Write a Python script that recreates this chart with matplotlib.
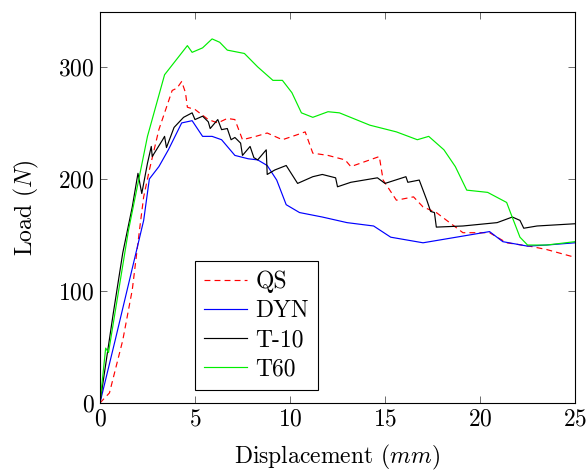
import matplotlib
matplotlib.use("Agg")
import matplotlib.pyplot as plt

plt.rcParams['font.family'] = 'serif'
plt.rcParams['font.serif'] = ['cmr10', 'DejaVu Serif']
plt.rcParams['mathtext.fontset'] = 'cm'
plt.rcParams['axes.formatter.use_mathtext'] = True

qs_x = [0, 0.5, 1.2, 1.7, 2.1, 2.3, 2.6, 3.1, 3.8, 4.05, 4.3, 4.5, 4.6, 5.0, 5.7, 6.2, 6.7, 7.1, 7.5,
        8.2, 8.8, 9.6, 10.3, 10.8, 11.2, 12.0, 12.9, 13.2, 14.7, 14.9, 15.6, 16.5, 17.0, 17.7, 18.4,
        19.1, 20.5, 21.4, 22.6, 23.5, 25.0]
qs_y = [0, 9, 56, 101, 157, 184, 208, 244, 279, 281, 287, 277, 264, 262, 253, 250, 254, 253, 235,
        238, 241, 235, 239, 242, 223, 221, 217, 211, 220, 199, 181, 184, 175, 170, 161,
        152, 152, 143, 140, 137, 130]

dyn_x = [0, 0.8, 1.6, 2.3, 2.6, 3.1, 3.6, 4.3, 4.85, 5.4, 5.9, 6.4, 7.1, 7.8, 8.3, 8.8, 9.3, 9.8,
         10.5, 11.7, 13.0, 14.4, 15.3, 17.0, 20.5, 21.2, 22.5, 23.5, 25.0]
dyn_y = [0, 56, 113, 163, 200, 211, 226, 250, 252, 238, 238, 235, 221, 218, 217, 212, 199, 177,
         170, 166, 161, 158, 148, 143, 153, 144, 140, 141, 143]

t10_x = [0, 0.7, 1.2, 1.7, 2.0, 2.2, 2.5, 2.7, 2.75, 3.3, 3.4, 3.5, 3.9, 4.4, 4.85, 5.0, 5.4, 5.7,
         5.8, 6.2, 6.4, 6.7, 6.9, 7.1, 7.4, 7.5, 7.9, 8.1, 8.3, 8.75, 8.8, 9.2, 9.8, 10.4, 11.2,
         11.7, 12.4, 12.5, 13.2, 14.6, 15.0, 16.1, 16.2, 16.8, 17.2, 17.4, 17.6, 17.7, 19.1, 20.9,
         21.7, 22.1, 22.3, 23.0, 25.0]
t10_y = [0, 80, 134, 175, 205, 187, 214, 229, 220, 235, 238, 228, 246, 255, 259, 253, 256, 251,
         245, 253, 244, 245, 235, 237, 232, 221, 229, 219, 217, 226, 204, 208, 212, 196, 202,
         204, 201, 193, 197, 201, 196, 202, 197, 199, 181, 171, 170, 157, 158, 161,
         166, 163, 156, 158, 160]

t60_x = [0, 0.3, 0.45, 1.5, 2.5, 3.4, 4.6, 4.85, 5.4, 5.9, 6.3, 6.7, 7.6, 8.3, 9.1, 9.6, 10.1, 10.6,
         11.2, 12.0, 12.6, 14.2, 15.6, 16.7, 17.3, 18.1, 18.7, 19.3, 20.4, 21.4, 21.6, 22.1, 22.5,
         23.5, 25.0]
t60_y = [0, 49, 45, 154, 238, 293, 319, 313, 317, 325, 322, 315, 312, 300, 288, 288, 277, 259,
         255, 260, 259, 248, 242, 235, 238, 226, 211, 190, 188, 179, 170, 148, 141,
         141, 144]

fig = plt.figure(figsize=(5.88, 4.75), dpi=100)
ax = fig.add_axes([0.170, 0.1516, 0.808, 0.8231])

lw = 0.85
ax.plot(qs_x, qs_y, color='red', lw=lw, dashes=(5, 3.5), label='QS')
ax.plot(dyn_x, dyn_y, color='blue', lw=lw, label='DYN')
ax.plot(t10_x, t10_y, color='black', lw=lw, label='T-10')
ax.plot(t60_x, t60_y, color='#00ee00', lw=lw, label='T60')

ax.set_xlim(0, 25)
ax.set_ylim(0, 349)
ax.set_xticks([0, 5, 10, 15, 20, 25])
ax.set_yticks([0, 100, 200, 300])
ax.tick_params(direction='in', top=True, right=True, length=5, width=0.6,
               colors='#555555', labelcolor='black', labelsize=17, pad=4)
for s in ax.spines.values():
    s.set_linewidth(0.8)

ax.set_xlabel('Displacement ($mm$)', fontsize=17, labelpad=9)
ax.set_ylabel('Load ($N$)', fontsize=17, labelpad=12)

leg = ax.legend(loc='lower left', bbox_to_anchor=(0.2, 0.033), fancybox=False,
                edgecolor='black', framealpha=1, fontsize=17, handlelength=1.8,
                borderpad=0.4, labelspacing=0.3, handletextpad=0.35, borderaxespad=0)
leg.get_frame().set_linewidth(0.8)

fig.savefig('out.png', dpi=100)
